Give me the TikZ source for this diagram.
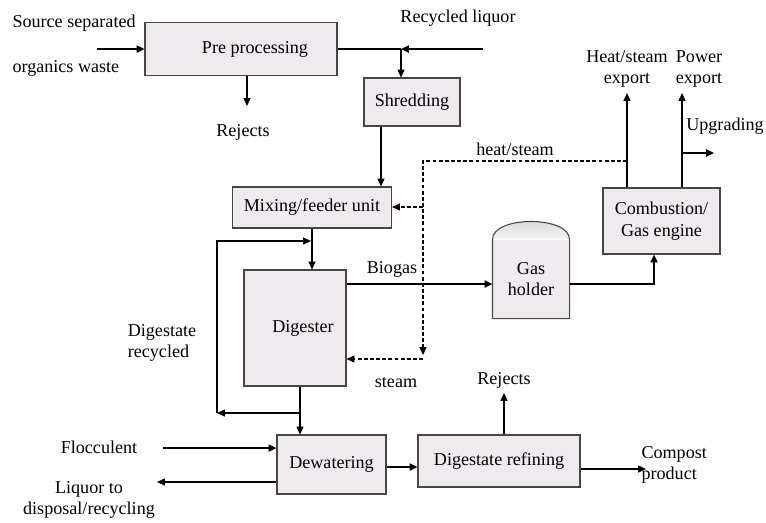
\documentclass[tikz,border=0pt]{standalone}
\usepackage{fontspec}
\setmainfont{Liberation Serif}
\usetikzlibrary{arrows.meta}
\definecolor{boxfill}{RGB}{238,234,238}
\definecolor{boxline}{RGB}{70,70,70}

\begin{document}
\begin{tikzpicture}[x=0.02cm,y=-0.02cm,>={Triangle[length=4.5pt,width=4pt]},line width=0.6pt,
  font=\fontsize{10.3}{12.4}\selectfont,
  proc/.style={draw=boxline,fill=boxfill,inner sep=0pt,align=center},
  flow/.style={->,line width=1.2pt},
  feed/.style={->},
  heat/.style={->,dash pattern=on 2.2pt off 1.3pt},
  txt/.style={inner sep=0pt,align=center}]
  \useasboundingbox (0,0) rectangle (766,522);

  % 处理单元
  \node[proc,minimum width=3.84cm,minimum height=1.06cm] (pre) at (241,49) {\hspace*{0.56cm}Pre processing};
  \node[proc,minimum width=1.92cm,minimum height=0.96cm] (shred) at (412,102) {Shredding};
  \node[proc,minimum width=3.18cm,minimum height=0.82cm] (mix) at (312,207.5) {Mixing/feeder unit};
  \node[proc,minimum width=2.04cm,minimum height=2.32cm] (dig) at (295,328) {\hspace*{0.32cm}Digester};
  \node[proc,draw=none,minimum width=1.52cm,minimum height=1.56cm] (holder) at (531,279) {Gas\\holder};
  \node[proc,minimum width=2.34cm,minimum height=1.32cm] (comb) at (661.5,221) {Combustion/\\Gas engine};
  \node[proc,minimum width=2.18cm,minimum height=1.18cm] (dew) at (331.5,464.5) {Dewatering};
  \node[proc,minimum width=3.24cm,minimum height=1.04cm] (ref) at (499,461) {Digestate refining};

  % 储气罐顶
  \shade[top color=gray!35,bottom color=gray!8] (holder.north west) .. controls +(0,-24) and +(0,-24) .. (holder.north east) -- cycle;
  \draw[boxline] (holder.north east) -- (holder.south east) -- (holder.south west) -- (holder.north west)
    .. controls +(0,-24) and +(0,-24) .. (holder.north east);

  % 端点
  \coordinate (srcin) at (97,49);
  \coordinate (liqin) at (483,49);
  \coordinate (jliq) at (401,49);
  \coordinate (rej1) at (247,106);
  \coordinate (cfeed) at (381,0);
  \coordinate (cout) at (300,413);
  \coordinate (crec) at (217,413);
  \coordinate (cret) at (311,241);
  \coordinate (cgas) at (0,284);
  \coordinate (ceng) at (654,0);
  \coordinate (cheat) at (627,93);
  \coordinate (cpow) at (682,93);
  \coordinate (cupg) at (682,153);
  \coordinate (upgout) at (714,153);
  \coordinate (hsplit) at (627,161);
  \coordinate (hcorner) at (423,161);
  \coordinate (hend) at (423,355);
  \coordinate (hmix) at (423,207);
  \coordinate (hdig) at (423,359);
  \coordinate (flocin) at (163,448);
  \coordinate (liqout) at (157,482);
  \coordinate (cdew) at (0,467);
  \coordinate (rej2) at (504,393);
  \coordinate (compout) at (646,469);

  % 物料流
  \draw[flow] (srcin) -- (pre.west);
  \draw[line width=1.2pt] (pre.east) -- (jliq);
  \draw[flow] (liqin) -- (jliq);
  \draw[feed] (jliq) -- (jliq |- shred.north);
  \draw[feed] (pre.south -| rej1) -- (rej1);
  \draw[feed] (shred.south -| cfeed) -- (mix.north -| cfeed);
  \draw[feed] (mix.south) -- (mix.south |- dig.north);

  % 回流
  \draw[feed] (dig.south -| cout) -- (dew.north -| cout);
  \draw[feed] (cout) -- (crec);
  \draw[feed] (crec) |- (cret);

  % 沼气
  \draw[flow] (dig.east |- cgas) -- (holder.west |- cgas);
  \draw[flow] (holder.east |- cgas) -| (comb.south -| ceng);
  \draw[feed] (comb.north -| cheat) -- (cheat);
  \draw[feed] (comb.north -| cpow) -- (cpow);
  \draw[flow] (cupg) -- (upgout);

  % 热/蒸汽
  \draw[heat] (hsplit) -- (hcorner) -- (hend);
  \draw[heat] (hmix) -- (mix.east |- hmix);
  \draw[heat] (hdig) -- (dig.east |- hdig);

  % 脱水与精制
  \draw[flow] (flocin) -- (flocin -| dew.west);
  \draw[feed] (dew.west |- liqout) -- (liqout);
  \draw[flow] (dew.east |- cdew) -- (ref.west |- cdew);
  \draw[feed] (ref.north -| rej2) -- (rej2);
  \draw[feed] (ref.east |- compout) -- (compout);

  % 标注
  \node[txt,anchor=west] (srclbl) at (12,23) {Source separated};
  \node[txt,anchor=west] (orglbl) at (12,68) {organics waste};
  \node[txt] (liqlbl) at (458,18) {Recycled liquor};
  \node[txt] (rejlbl) at (243,132) {Rejects};
  \node[txt] (heatlbl) at (515,149) {heat/steam};
  \node[txt] (hexlbl) at (627,69) {Heat/steam\\export};
  \node[txt] (pexlbl) at (699,69) {Power\\export};
  \node[txt] (upglbl) at (725,126) {Upgrading};
  \node[txt] (biolbl) at (392,269) {Biogas};
  \node[txt] (stmlbl) at (396,382) {steam};
  \node[txt,align=left] (reclbl) at (162,343) {Digestate\\recycled};
  \node[txt] (rej2lbl) at (504,380) {Rejects};
  \node[txt,align=left,anchor=west] (complbl) at (641,465) {Compost\\product};
  \node[txt] (floclbl) at (99,447) {Flocculent};
  \node[txt] (liqoutlbl) at (89,500) {Liquor to\\disposal/recycling};
\end{tikzpicture}
\end{document}
